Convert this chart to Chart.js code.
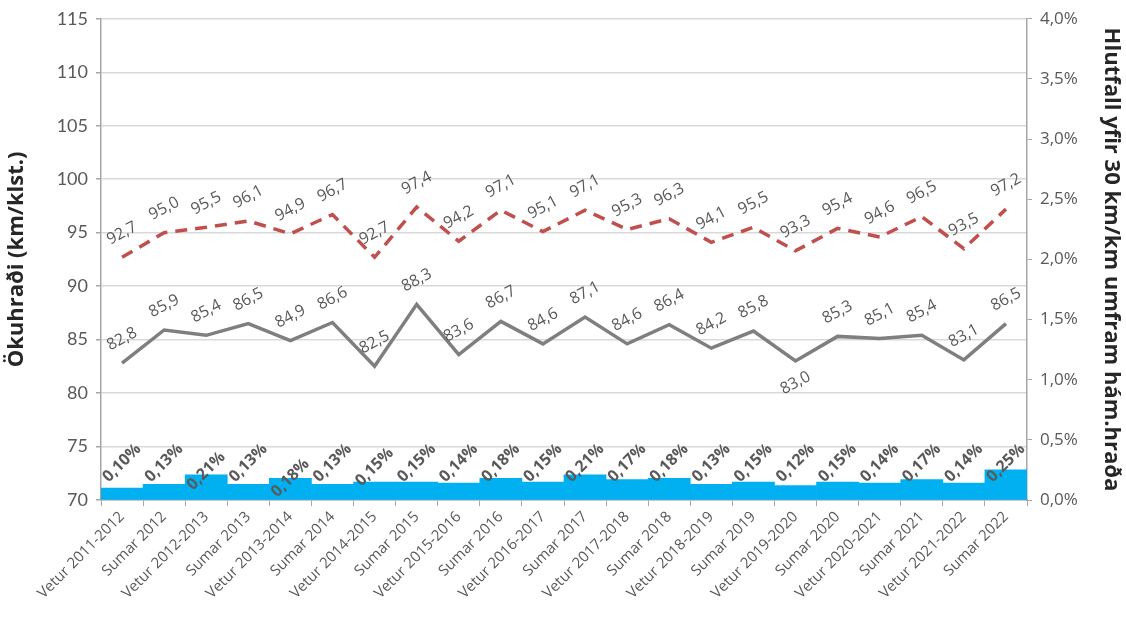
<!DOCTYPE html>
<html><head><meta charset="utf-8">
<script src="https://cdn.jsdelivr.net/npm/chart.js@4/dist/chart.umd.min.js"></script>
<style>html,body{margin:0;padding:0;background:#fff;}#wrap{width:1126px;height:619px;position:relative;}</style>
</head><body><div id="wrap"><canvas id="c" width="1126" height="619"></canvas></div>
<script>
const categories = ["Vetur 2011-2012","Sumar 2012","Vetur 2012-2013","Sumar 2013","Vetur 2013-2014","Sumar 2014","Vetur 2014-2015","Sumar 2015","Vetur 2015-2016","Sumar 2016","Vetur 2016-2017","Sumar 2017","Vetur 2017-2018","Sumar 2018","Vetur 2018-2019","Sumar 2019","Vetur 2019-2020","Sumar 2020","Vetur 2020-2021","Sumar 2021","Vetur 2021-2022","Sumar 2022"];
const speed85 = [92.7,95.0,95.5,96.1,94.9,96.7,92.7,97.4,94.2,97.1,95.1,97.1,95.3,96.3,94.1,95.5,93.3,95.4,94.6,96.5,93.5,97.2];
const speedAvg = [82.8,85.9,85.4,86.5,84.9,86.6,82.5,88.3,83.6,86.7,84.6,87.1,84.6,86.4,84.2,85.8,83.0,85.3,85.1,85.4,83.1,86.5];
const overPct = [0.10,0.13,0.21,0.13,0.18,0.13,0.15,0.15,0.14,0.18,0.15,0.21,0.17,0.18,0.13,0.15,0.12,0.15,0.14,0.17,0.14,0.25];
const leftTicks = [70,75,80,85,90,95,100,105,110,115];
const rightTicks = [0,0.5,1,1.5,2,2.5,3,3.5,4];

const FONT = "'Open Sans', sans-serif";
const LFONT = "Lato, sans-serif";
const fmt1 = v => v.toFixed(1).replace('.', ',');
const fmt2 = v => v.toFixed(2).replace('.', ',') + '%';

const labelPlugin = {
  id: 'labels',
  afterDatasetsDraw(chart) {
    const ctx = chart.ctx;
    const area = chart.chartArea;
    ctx.save();
    ctx.fillStyle = '#595959';
    ctx.textAlign = 'center';
    ctx.textBaseline = 'middle';
    [[0, speed85], [1, speedAvg]].forEach(([di, vals]) => {
      const meta = chart.getDatasetMeta(di);
      ctx.font = "16px " + FONT;
      meta.data.forEach((pt, i) => {
        let dy = -24;
        if (di === 1 && i === 16) dy = 22;
        ctx.save();
        ctx.translate(pt.x, pt.y + dy);
        ctx.rotate(-28 * Math.PI / 180);
        ctx.fillText(fmt1(vals[i]), 0, 0);
        ctx.restore();
      });
    });
    const bm = chart.getDatasetMeta(2);
    ctx.font = "bold 16px " + FONT;
    const nudge = {2: 8, 4: 15, 6: 4};
    bm.data.forEach((b, i) => {
      ctx.save();
      ctx.translate(b.x, area.bottom - 37 + (nudge[i] || 0));
      ctx.rotate(-45 * Math.PI / 180);
      ctx.fillText(fmt2(overPct[i]), 0, 0);
      ctx.restore();
    });
    ctx.restore();
  }
};

new Chart(document.getElementById('c'), {
  type: 'bar',
  data: {
    labels: categories,
    datasets: [
      { type: 'line', data: speed85, yAxisID: 'y', borderColor: '#c0504d', borderWidth: 3.5, borderDash: [12, 8], pointRadius: 0, tension: 0, order: 1 },
      { type: 'line', data: speedAvg, yAxisID: 'y', borderColor: '#7f7f7f', borderWidth: 3.5, pointRadius: 0, tension: 0, order: 2 },
      { type: 'bar', data: overPct, yAxisID: 'y1', backgroundColor: '#00b0f0', barPercentage: 1, categoryPercentage: 1, order: 3 }
    ]
  },
  options: {
    responsive: false,
    animation: false,
    layout: { padding: { top: 15, left: 0, right: 0, bottom: 0 } },
    plugins: { legend: { display: false }, tooltip: { enabled: false } },
    scales: {
      x: {
        offset: true,
        grid: { offset: true, drawOnChartArea: false, drawTicks: true, tickLength: 6, tickColor: '#a6a6a6' },
        border: { color: '#a6a6a6', width: 1.5 },
        ticks: { color: '#595959', font: { family: FONT, size: 15 }, minRotation: 45, maxRotation: 45, autoSkip: false, padding: 2 },
        afterFit(s) { s.height = 119; }
      },
      y: {
        position: 'left', min: 70, max: 115,
        afterBuildTicks(s) { s.ticks = leftTicks.map(v => ({ value: v })); },
        grid: { color: '#d9d9d9', lineWidth: 1.5, tickLength: 5, tickColor: '#a6a6a6' },
        border: { color: '#a6a6a6', width: 1.5 },
        ticks: { color: '#595959', font: { family: LFONT, size: 18 }, padding: 8, callback: v => String(v) },
        title: { display: true, text: 'Ökuhraði (km/klst.)', color: '#262626', font: { family: FONT, size: 22, weight: 'bold' }, padding: { top: 4, bottom: 2 } },
        afterFit(s) { s.width = 101; }
      },
      y1: {
        position: 'right', min: 0, max: 4,
        afterBuildTicks(s) { s.ticks = rightTicks.map(v => ({ value: v })); },
        grid: { drawOnChartArea: false, tickLength: 5, tickColor: '#a6a6a6' },
        border: { color: '#a6a6a6', width: 1.5 },
        ticks: { color: '#595959', font: { family: FONT, size: 17 }, padding: 8, callback: v => v.toFixed(1).replace('.', ',') + '%' },
        title: { display: true, text: 'Hlutfall yfir 30 km/km umfram hám.hraða', color: '#262626', font: { family: FONT, size: 22, weight: 'bold' }, padding: { top: 2, bottom: 4 } },
        afterFit(s) { s.width = 99; }
      }
    }
  },
  plugins: [labelPlugin]
});
</script>
</body></html>
